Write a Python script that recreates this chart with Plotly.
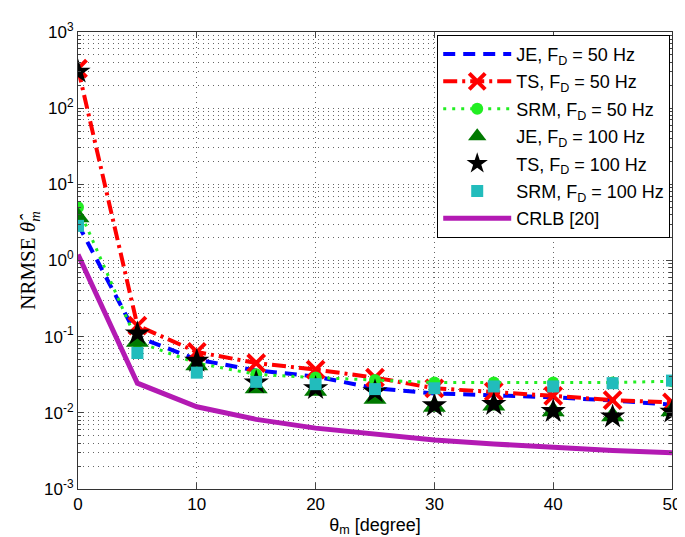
import plotly.graph_objects as go

theta = [0, 5, 10, 15, 20, 25, 30, 35, 40, 45, 50]

je_50 = [3.0, 0.10, 0.050, 0.036, 0.030, 0.021, 0.018, 0.017, 0.016, 0.0145, 0.0128]
ts_50 = [330, 0.14, 0.063, 0.045, 0.037, 0.029, 0.021, 0.019, 0.0167, 0.0147, 0.0137]
srm_50 = [5.0, 0.085, 0.045, 0.032, 0.029, 0.027, 0.025, 0.025, 0.025, 0.025, 0.026]
je_100 = [3.7, 0.086, 0.042, 0.021, 0.0195, 0.0153, 0.012, 0.0125, 0.0105, 0.009, 0.0105]
ts_100 = [300, 0.11, 0.048, 0.025, 0.021, 0.019, 0.0125, 0.013, 0.0105, 0.0089, 0.0103]
srm_100 = [2.85, 0.061, 0.0337, 0.0255, 0.0238, 0.0205, 0.021, 0.0222, 0.0222, 0.0245, 0.0265]
crlb = [1.2, 0.0245, 0.012, 0.0082, 0.0063, 0.0052, 0.0044, 0.0039, 0.0035, 0.0032, 0.0030]

y_tick_vals = [1e-3, 1e-2, 1e-1, 1e0, 1e1, 1e2, 1e3]
y_tick_text = ["10<sup>-3</sup>", "10<sup>-2</sup>", "10<sup>-1</sup>", "10<sup>0</sup>",
               "10<sup>1</sup>", "10<sup>2</sup>", "10<sup>3</sup>"]
x_tick_vals = [0, 10, 20, 30, 40, 50]

minor_vals = []
for e in range(-3, 3):
    for d in range(2, 10):
        minor_vals.append(d * 10 ** e)

GRID = "#666"
GDASH = "1px,4px"

fig = go.Figure()
fig.add_trace(go.Scatter(x=theta, y=je_50, mode="lines", name="JE, F<sub>D</sub> = 50 Hz",
                         legendgroup="a",
                         line=dict(color="#0000ff", width=4, dash="12px,8px")))
fig.add_trace(go.Scatter(x=theta, y=ts_50, mode="lines+markers", name="TS, F<sub>D</sub> = 50 Hz",
                         legendgroup="b",
                         line=dict(color="#ff0000", width=4, dash="14px,5px,3px,5px"),
                         marker=dict(symbol="x-thin", size=17, line=dict(color="#ff0000", width=4))))
fig.add_trace(go.Scatter(x=theta, y=srm_50, mode="lines+markers", name="SRM, F<sub>D</sub> = 50 Hz",
                         legendgroup="c",
                         line=dict(color="#22ee22", width=3, dash="3px,6px"),
                         marker=dict(symbol="circle", size=12, color="#22ee22")))
fig.add_trace(go.Scatter(x=theta, y=je_100, mode="markers", name="JE, F<sub>D</sub> = 100 Hz",
                         legendgroup="d",
                         marker=dict(symbol="triangle-up", size=20, color="#007a00")))
fig.add_trace(go.Scatter(x=theta, y=ts_100, mode="markers", name="TS, F<sub>D</sub> = 100 Hz",
                         legendgroup="e",
                         marker=dict(symbol="star", size=19, color="#000000")))
fig.add_trace(go.Scatter(x=theta, y=srm_100, mode="markers", name="SRM, F<sub>D</sub> = 100 Hz",
                         legendgroup="f",
                         marker=dict(symbol="square", size=12, color="#22bcbc")))
fig.add_trace(go.Scatter(x=theta, y=crlb, mode="lines", name="CRLB [20]",
                         legendgroup="g",
                         line=dict(color="#b31ab3", width=5)))

fig.update_layout(
    width=685, height=537,
    margin=dict(l=70, r=12, t=15, b=56),
    paper_bgcolor="white", plot_bgcolor="white",
    font=dict(family="Liberation Sans, Arial, sans-serif", size=17, color="black"),
    showlegend=True,
    legend=dict(x=0.997, y=0.994, xanchor="right", yanchor="top",
                bgcolor="white", bordercolor="black", borderwidth=1,
                font=dict(size=18), itemwidth=68, tracegroupgap=1),
)
fig.update_xaxes(
    range=[0, 50], tickvals=x_tick_vals, ticks="inside", ticklen=6,
    showline=True, linecolor="#333", linewidth=1, mirror="allticks",
    showgrid=True, gridcolor=GRID, griddash=GDASH, gridwidth=1,
    zeroline=False,
    title=dict(text="θ<sub>m</sub> [degree]", font=dict(size=18), standoff=4),
)
fig.update_yaxes(
    type="log", range=[-3, 3], tickvals=y_tick_vals, ticktext=y_tick_text,
    ticks="inside", ticklen=6,
    showline=True, linecolor="#333", linewidth=1, mirror="allticks",
    showgrid=True, gridcolor=GRID, griddash=GDASH, gridwidth=1,
    minor=dict(tickvals=minor_vals, ticks="inside", ticklen=3, showgrid=True,
               gridcolor=GRID, griddash=GDASH, gridwidth=1),
    zeroline=False,
    title=dict(text="NRMSE <i>θ̂</i><sub><i>m</i></sub>",
               font=dict(family="Liberation Serif, DejaVu Serif, serif", size=21), standoff=2),
)

fig.write_html("out.html")
